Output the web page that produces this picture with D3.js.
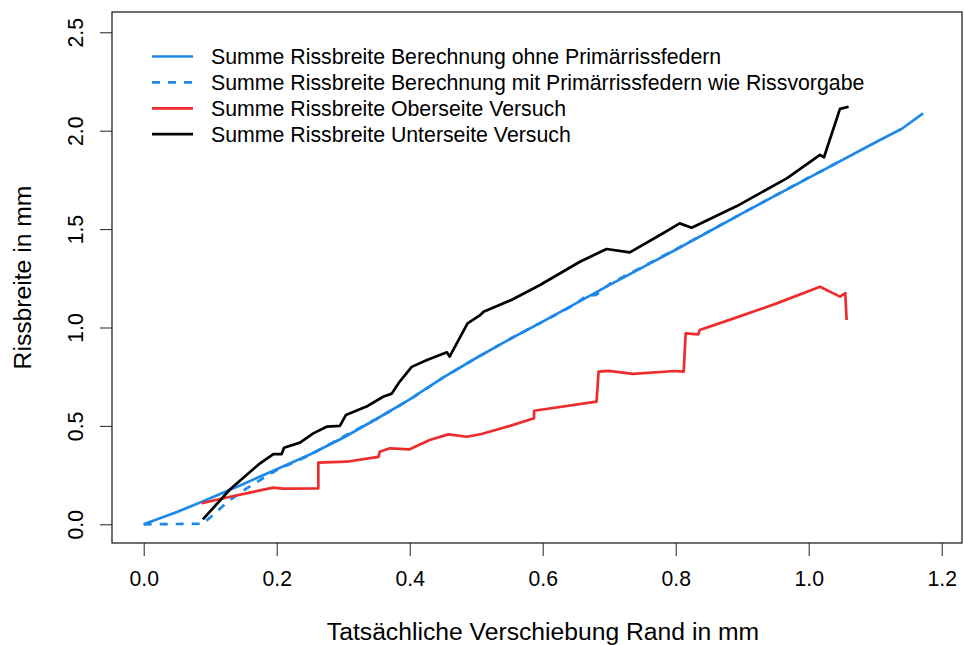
<!DOCTYPE html>
<html>
<head>
<meta charset="utf-8">
<script src="https://cdn.jsdelivr.net/npm/d3@7"></script>
<style>
  html, body { margin: 0; padding: 0; background: #fff; }
  svg { display: block; font-family: "Liberation Sans", Arial, Helvetica, sans-serif; }
</style>
</head>
<body>
<svg id="chart" width="964" height="645"></svg>
<script>
// Calculated crack width sum without primary crack springs
const calcX = [0, 0.05, 0.10, 0.15, 0.20, 0.25, 0.30, 0.35, 0.40, 0.45, 0.50, 0.55, 0.60, 0.70, 0.80, 0.90, 1.00, 1.10, 1.14, 1.172];
const calcY = [0, 0.062, 0.132, 0.205, 0.28, 0.355, 0.44, 0.535, 0.635, 0.745, 0.845, 0.94, 1.03, 1.215, 1.395, 1.58, 1.76, 1.94, 2.01, 2.088];

// Calculated crack width sum with primary crack springs as specified
const calcPrimX = [0, 0.09, 0.095, 0.128, 0.155, 0.18, 0.20, 0.25, 0.30, 0.35, 0.40, 0.45, 0.50, 0.55, 0.60, 0.65, 0.665, 0.68, 0.70, 0.80, 0.90, 1.00, 1.05];
const calcPrimY = [0, 0.003, 0.02, 0.119, 0.183, 0.235, 0.275, 0.352, 0.445, 0.535, 0.633, 0.745, 0.845, 0.94, 1.03, 1.12, 1.16, 1.165, 1.22, 1.397, 1.58, 1.762, 1.85];

// Measured crack width sum, top side
const topX = [0.087, 0.13, 0.165, 0.195, 0.21, 0.2626, 0.2626, 0.305, 0.353, 0.355, 0.37, 0.40, 0.43, 0.458, 0.486, 0.508, 0.551, 0.587, 0.587, 0.681, 0.684, 0.699, 0.736, 0.799, 0.812, 0.815, 0.834, 0.836, 0.882, 0.95, 1.017, 1.047, 1.055, 1.057];
const topY = [0.107, 0.14, 0.165, 0.186, 0.181, 0.183, 0.313, 0.318, 0.343, 0.369, 0.386, 0.381, 0.428, 0.457, 0.445, 0.459, 0.50, 0.539, 0.577, 0.623, 0.776, 0.78, 0.764, 0.779, 0.776, 0.97, 0.965, 0.987, 1.04, 1.12, 1.207, 1.157, 1.174, 1.038];

// Measured crack width sum, bottom side
const bottomX = [0.089, 0.13, 0.175, 0.195, 0.2075, 0.211, 0.235, 0.255, 0.275, 0.295, 0.304, 0.335, 0.36, 0.373, 0.385, 0.403, 0.426, 0.456, 0.46, 0.487, 0.506, 0.511, 0.553, 0.596, 0.656, 0.696, 0.731, 0.781, 0.806, 0.824, 0.892, 0.967, 1.017, 1.023, 1.047, 1.06];
const bottomY = [0.025, 0.178, 0.31, 0.357, 0.357, 0.389, 0.415, 0.462, 0.496, 0.50, 0.555, 0.598, 0.648, 0.664, 0.725, 0.80, 0.835, 0.874, 0.852, 1.021, 1.063, 1.08, 1.14, 1.216, 1.334, 1.399, 1.382, 1.479, 1.529, 1.507, 1.617, 1.758, 1.877, 1.865, 2.111, 2.122];

const xTicks = [0, 0.2, 0.4, 0.6, 0.8, 1.0, 1.2];
const yTicks = [0, 0.5, 1.0, 1.5, 2.0, 2.5];

const legendLabels = [
  "Summe Rissbreite Berechnung ohne Primärrissfedern",
  "Summe Rissbreite Berechnung mit Primärrissfedern wie Rissvorgabe",
  "Summe Rissbreite Oberseite Versuch",
  "Summe Rissbreite Unterseite Versuch"
];

const xTitle = "Tatsächliche Verschiebung Rand in mm";
const yTitle = "Rissbreite in mm";

const blue = "#1E88E8", red = "#EE2C2C", black = "#000000";

const svg = d3.select("#chart");
const box = { left: 112, right: 962, top: 12, bottom: 543 };

const x = d3.scaleLinear().domain([0, 1.2]).range([143.7, 941.7]);
const y = d3.scaleLinear().domain([0, 2.5]).range([524.3, 32.3]);

svg.append("defs").append("clipPath").attr("id", "plotclip")
  .append("rect")
  .attr("x", box.left).attr("y", box.top)
  .attr("width", box.right - box.left).attr("height", box.bottom - box.top);

// Axes
const xAxis = d3.axisBottom(x).tickValues(xTicks).tickSize(13).tickPadding(16)
  .tickFormat(d3.format(".1f"));
const gx = svg.append("g").attr("transform", `translate(0,${box.bottom})`).call(xAxis);
gx.select(".domain").remove();
gx.selectAll(".tick line").attr("stroke", "#222").attr("stroke-width", 1);
gx.selectAll(".tick text").attr("font-size", 21.2).attr("fill", "#000")
  .attr("dy", null).attr("y", 43);

const yAxis = d3.axisLeft(y).tickValues(yTicks).tickSize(12).tickFormat(d3.format(".1f"));
const gy = svg.append("g").attr("transform", `translate(${box.left},0)`).call(yAxis);
gy.select(".domain").remove();
gy.selectAll(".tick line").attr("stroke", "#222").attr("stroke-width", 1);
gy.selectAll(".tick text")
  .attr("font-size", 21.2).attr("fill", "#000")
  .attr("x", null).attr("dy", null)
  .attr("text-anchor", "middle")
  .attr("transform", "translate(-29,0) rotate(-90)");

// Plot frame
svg.append("rect")
  .attr("x", box.left).attr("y", box.top)
  .attr("width", box.right - box.left).attr("height", box.bottom - box.top)
  .attr("fill", "none").attr("stroke", "#111").attr("stroke-width", 1.2);

// Axis titles
svg.append("text")
  .attr("x", (box.left + box.right) / 2 + 6).attr("y", 640)
  .attr("text-anchor", "middle").attr("font-size", 24.7).attr("fill", "#000")
  .text(xTitle);
svg.append("text")
  .attr("transform", `translate(31,${(box.top + box.bottom) / 2}) rotate(-90)`)
  .attr("text-anchor", "middle").attr("font-size", 24.7).attr("fill", "#000")
  .text(yTitle);

// Series
const series = [
  { xs: calcX, ys: calcY, color: blue, dash: null },
  { xs: calcPrimX, ys: calcPrimY, color: blue, dash: "8,8" },
  { xs: topX, ys: topY, color: red, dash: null },
  { xs: bottomX, ys: bottomY, color: black, dash: null }
];

const line = d3.line().x(d => x(d[0])).y(d => y(d[1]));
const plot = svg.append("g").attr("clip-path", "url(#plotclip)");
series.forEach(s => {
  const pts = s.xs.map((v, i) => [v, s.ys[i]]);
  plot.append("path")
    .datum(pts)
    .attr("d", line)
    .attr("fill", "none")
    .attr("stroke", s.color)
    .attr("stroke-width", 2.7)
    .attr("stroke-linejoin", "round")
    .attr("stroke-linecap", "butt")
    .attr("stroke-dasharray", s.dash);
});

// Legend
const legend = svg.append("g");
legendLabels.forEach((label, i) => {
  const s = series[i];
  const ly = 56.5 + i * 25.9;
  legend.append("line")
    .attr("x1", 152).attr("x2", 193).attr("y1", ly).attr("y2", ly)
    .attr("stroke", s.color).attr("stroke-width", 2.7)
    .attr("stroke-dasharray", s.dash);
  legend.append("text")
    .attr("x", 211).attr("y", ly + 7.5)
    .attr("font-size", 21.3).attr("fill", "#000")
    .text(label);
});
</script>
</body>
</html>
